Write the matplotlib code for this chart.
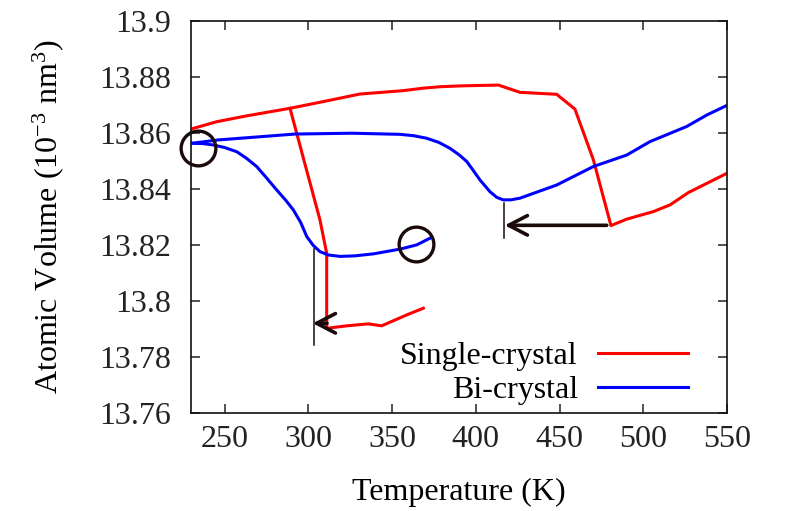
import matplotlib
matplotlib.use('Agg')
import matplotlib.pyplot as plt
from matplotlib.ticker import FuncFormatter

plt.rcParams['font.family'] = ['Liberation Serif', 'DejaVu Serif']
plt.rcParams['mathtext.fontset'] = 'custom'
plt.rcParams['mathtext.rm'] = 'Liberation Serif'
plt.rcParams['mathtext.it'] = 'Liberation Serif:italic'

# single crystal: heating run and the quenched branch
sc_T = [230, 245.3, 263.2, 289.1, 309.0, 330.9, 356.7, 368.7, 378.7, 390.6, 413.5,
        426.4, 448.3, 459.2, 470.2, 480.7, 490.1, 506.0, 516.0, 526.9, 550]
sc_V = [13.8614, 13.8640, 13.8661, 13.8688, 13.8712, 13.8739, 13.8751, 13.8760, 13.8765,
        13.8768, 13.8771, 13.8745, 13.8738, 13.8685, 13.8504, 13.8269, 13.8292, 13.8319,
        13.8343, 13.8387, 13.8456]
sc_q_T = [289.1, 307.0, 311.0, 311.0, 323.0, 335.9, 343.8, 358.8, 368.7]
sc_q_V = [13.8688, 13.8289, 13.8170, 13.7902, 13.7911, 13.7918, 13.7911, 13.7950, 13.7974]

# bi-crystal: heating run and the quenched branch
bc_T = [230.4, 246.3, 292.1, 325.9, 354.8, 363.0, 370.7, 378.0, 384.6, 390.0, 394.6,
        398.5, 402.5, 408.5, 412.5, 416.4, 421.0, 426.4, 448.3, 470.2, 490.1, 504.0,
        525.9, 537.9, 549.8]
bc_V = [13.8563, 13.8575, 13.8596, 13.8599, 13.8595, 13.8590, 13.8581, 13.8566, 13.8545,
        13.8522, 13.8498, 13.8466, 13.8432, 13.8390, 13.8370, 13.8361, 13.8361, 13.8367,
        13.8414, 13.8480, 13.8521, 13.8569, 13.8623, 13.8664, 13.8698]
bc_q_T = [230.4, 237.0, 243.3, 250.0, 257.3, 263.0, 269.2, 275.0, 281.2, 286.5, 291.1,
          295.5, 299.1, 303.0, 307.0, 312.0, 319.0, 328.0, 338.8, 354.8, 364.7, 372.7]
bc_q_V = [13.8563, 13.8562, 13.8557, 13.8548, 13.8533, 13.8510, 13.8480, 13.8440, 13.8396,
          13.8360, 13.8325, 13.8280, 13.8230, 13.8198, 13.8176, 13.8164, 13.8159, 13.8161,
          13.8168, 13.8185, 13.8200, 13.8224]

# markers: circled points and shift arrows
circle_T = [233.9, 364.2]
circle_V = [13.8546, 13.8205]
mark1_T, mark1_V = 303.6, (13.7843, 13.8185)
arrow1 = ((311.2, 13.7920), (302.7, 13.7920))
mark2_T, mark2_V = 416.9, (13.8224, 13.8349)
arrow2 = ((478.2, 13.8270), (417.3, 13.8270))

ink = '#1a0a0a'
fs = 23

fig = plt.figure(figsize=(7.86, 5.11), dpi=100)
ax = fig.add_axes([0.243, 0.192, 0.682, 0.767])

ax.plot(sc_T, sc_V, color='#ff0000', lw=2.2, label='Single-crystal')
ax.plot(sc_q_T, sc_q_V, color='#ff0000', lw=2.2)
ax.plot(bc_T, bc_V, color='#0000ff', lw=2.2, label='Bi-crystal')
ax.plot(bc_q_T, bc_q_V, color='#0000ff', lw=2.2)

ax.plot(circle_T, circle_V, 'o', ms=25, mfc='none', mec=ink, mew=2.4, clip_on=False)
ax.plot([mark1_T, mark1_T], mark1_V, color=ink, lw=1.1)
ax.plot([mark2_T, mark2_T], mark2_V, color=ink, lw=1.1)
for start, end in (arrow1, arrow2):
    ax.annotate('', xy=end, xytext=start,
                arrowprops=dict(arrowstyle='->,head_length=1.35,head_width=0.7',
                                color=ink, lw=2.6, mutation_scale=10,
                                shrinkA=0, shrinkB=0))

ax.set_xlim(230, 550)
ax.set_ylim(13.76, 13.9)
ax.set_xticks([250, 300, 350, 400, 450, 500, 550])
ax.set_yticks([13.76, 13.78, 13.8, 13.82, 13.84, 13.86, 13.88, 13.9])
ax.yaxis.set_major_formatter(FuncFormatter(lambda v, p: f'{v:g}'))
ax.tick_params(direction='in', length=6.5, width=1.1, labelsize=fs,
               top=True, right=True, colors='#222222')
ax.tick_params(axis='y', pad=14)
ax.tick_params(axis='x', pad=9)
for s in ax.spines.values():
    s.set_linewidth(1.2)
    s.set_color('#111111')

ax.set_xlabel('Temperature (K)', fontsize=fs, labelpad=17)
ax.set_ylabel('Atomic Volume (10$^{-3}$ nm$^3$)', fontsize=fs, labelpad=24)

ax.legend(loc='lower right', bbox_to_anchor=(0.927, 0.02), frameon=False,
          markerfirst=False, fontsize=fs, handlelength=2.8,
          handletextpad=0.65, labelspacing=0.15, borderpad=0, borderaxespad=0)

fig.savefig('out.png', dpi=100)
